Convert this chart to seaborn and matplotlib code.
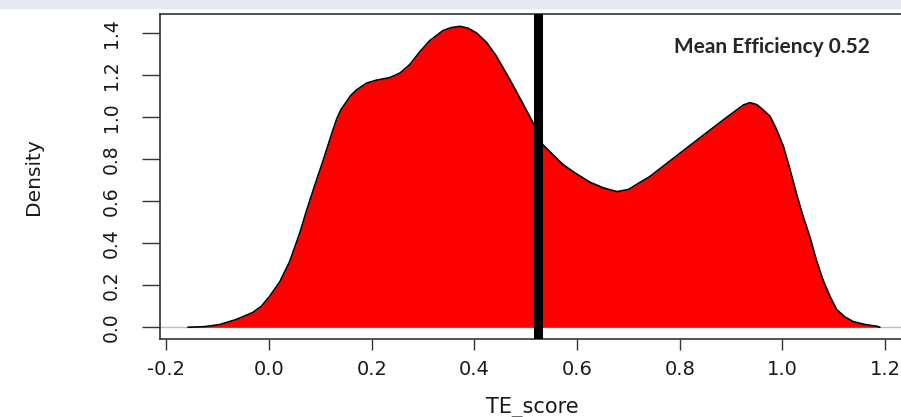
import matplotlib
matplotlib.use("Agg")
import matplotlib.pyplot as plt
import matplotlib.patches as mpatches
import pandas as pd
import seaborn as sns

# density curve of TE_score
te_grid = [-0.158, -0.125, -0.096, -0.064, -0.032, -0.015, 0.001, 0.021, 0.040,
           0.060, 0.073, 0.089, 0.105, 0.124, 0.132, 0.140, 0.151, 0.159,
           0.170, 0.190, 0.209, 0.235, 0.255, 0.274, 0.294, 0.313, 0.339,
           0.355, 0.372, 0.387, 0.404, 0.424, 0.443, 0.469, 0.492, 0.514,
           0.533, 0.553, 0.572, 0.596, 0.625, 0.651, 0.678, 0.700, 0.722,
           0.742, 0.761, 0.806, 0.839, 0.872, 0.898, 0.911, 0.924, 0.937,
           0.950, 0.962, 0.976, 0.988, 1.002, 1.015, 1.028, 1.040, 1.054,
           1.066, 1.079, 1.093, 1.106, 1.122, 1.138, 1.161, 1.184, 1.190]
density = [0.000, 0.003, 0.013, 0.037, 0.070, 0.100, 0.147, 0.217, 0.312,
           0.450, 0.555, 0.675, 0.791, 0.935, 0.992, 1.035, 1.073, 1.102,
           1.128, 1.161, 1.175, 1.187, 1.209, 1.249, 1.311, 1.363, 1.411,
           1.425, 1.431, 1.423, 1.400, 1.354, 1.289, 1.178, 1.075, 0.973,
           0.869, 0.821, 0.775, 0.734, 0.690, 0.663, 0.645, 0.655, 0.688,
           0.717, 0.753, 0.838, 0.900, 0.962, 1.010, 1.033, 1.057, 1.068,
           1.059, 1.035, 1.003, 0.945, 0.861, 0.750, 0.631, 0.531, 0.427,
           0.322, 0.227, 0.146, 0.084, 0.049, 0.027, 0.013, 0.005, 0.000]
mean_te = 0.524
mean_label = "Mean Efficiency 0.52"

x_ticks = [-0.2, 0.0, 0.2, 0.4, 0.6, 0.8, 1.0, 1.2]
x_ticklabels = ["-0.2", "0.0", "0.2", "0.4", "0.6", "0.8", "1.0", "1.2"]
y_ticks = [0.0, 0.2, 0.4, 0.6, 0.8, 1.0, 1.2, 1.4]
y_ticklabels = ["0.0", "0.2", "0.4", "0.6", "0.8", "1.0", "1.2", "1.4"]

df = pd.DataFrame({"TE_score": te_grid, "Density": density})

sns.set_style("white")
plt.rcParams["font.family"] = ["DejaVu Sans"]

fig = plt.figure(figsize=(9.01, 4.17), dpi=100)
fig.patches.append(mpatches.Rectangle((0, 0.982), 1, 0.018, transform=fig.transFigure,
                                      color="#e6e8f1", zorder=-1))
# axes run a little past the right edge, as in the cropped original
ax = fig.add_axes([0.1776, 0.1863, 0.8297, 0.780])

ax.axhline(0, color="#bebebe", lw=1, zorder=1)
ax.fill_between(df["TE_score"], df["Density"], color="#ff0000", lw=0, zorder=2)
sns.lineplot(data=df, x="TE_score", y="Density", sort=False, color="black",
             lw=1.2, ax=ax, zorder=3)
ax.axvline(mean_te, color="black", lw=6.5, zorder=4)

ax.text(0.98, 1.335, mean_label, ha="center", va="center", fontsize=15,
        fontweight="bold", family=["Lato", "DejaVu Sans"], zorder=5)

ax.set_xlim(-0.2125, 1.244)
ax.set_ylim(-0.0573, 1.4894)

ax.set_xticks(x_ticks)
ax.set_xticklabels(x_ticklabels, fontsize=14)
ax.set_yticks(y_ticks)
ax.set_yticklabels(y_ticklabels, fontsize=13.5, rotation=90, va="center")
ax.tick_params(axis="x", direction="out", length=8, width=1, color="#333333",
               pad=7, bottom=True, labelcolor="#1a1a1a")
ax.tick_params(axis="y", direction="out", length=13, width=1, color="#333333",
               pad=15, left=True, labelcolor="#1a1a1a")

ax.set_xlabel("TE_score", fontsize=15, color="#1a1a1a")
ax.set_ylabel("Density", fontsize=14.5, color="#1a1a1a")
ax.xaxis.set_label_coords(0.4976, -0.178)
ax.yaxis.set_label_coords(-0.156, 0.5)

for side in ["left", "bottom", "top", "right"]:
    ax.spines[side].set_visible(True)
    ax.spines[side].set_color("#333333")
    ax.spines[side].set_linewidth(1.2)

fig.savefig("out.png", dpi=100)
